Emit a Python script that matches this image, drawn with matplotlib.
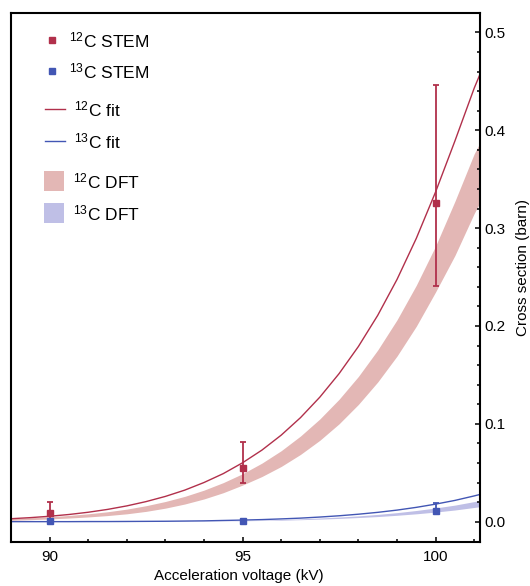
import numpy as np
import matplotlib
matplotlib.use("Agg")
import matplotlib.pyplot as plt
from matplotlib.patches import Rectangle

plt.rcParams['font.family'] = ['Liberation Sans', 'DejaVu Sans']
plt.rcParams['mathtext.fontset'] = 'custom'
plt.rcParams['mathtext.rm'] = 'Liberation Sans'
plt.rcParams['mathtext.it'] = 'Liberation Sans:italic'
plt.rcParams['mathtext.bf'] = 'Liberation Sans:bold'

# measured points (kV, barn)
volt = [90, 95, 100]
c12_stem = [0.009, 0.055, 0.326]
c12_err_lo = [0.008, 0.015, 0.085]
c12_err_hi = [0.011, 0.026, 0.120]
c13_stem = [0.0008, 0.0006, 0.0112]
c13_err_lo = [0.0005, 0.0004, 0.0015]
c13_err_hi = [0.0005, 0.0004, 0.0076]

# curves
xc = [89.0, 89.5, 90.0, 90.5, 91.0, 91.5, 92.0, 92.5, 93.0, 93.5, 94.0, 94.5, 95.0,
      95.5, 96.0, 96.5, 97.0, 97.5, 98.0, 98.5, 99.0, 99.5, 100.0, 100.5, 101.0, 101.2]
c12_fit = [0.0030, 0.0041, 0.0055, 0.0073, 0.0096, 0.0125, 0.0161, 0.0205, 0.0258, 0.0322,
           0.0400, 0.0491, 0.0602, 0.0731, 0.0884, 0.1063, 0.1272, 0.1513, 0.1790, 0.2108,
           0.2475, 0.2895, 0.3370, 0.3890, 0.4430, 0.4620]
c12_dft_hi = [0.0032, 0.0040, 0.0050, 0.0063, 0.0080, 0.0101, 0.0128, 0.0163, 0.0206, 0.0258,
              0.0322, 0.0399, 0.0490, 0.0598, 0.0725, 0.0875, 0.1049, 0.1251, 0.1484, 0.1754,
              0.2062, 0.2416, 0.2817, 0.3274, 0.3760, 0.3910]
c12_dft_lo = [0.0014, 0.0020, 0.0028, 0.0037, 0.0048, 0.0062, 0.0080, 0.0105, 0.0138, 0.0180,
              0.0232, 0.0296, 0.0374, 0.0461, 0.0564, 0.0687, 0.0831, 0.1000, 0.1198, 0.1427,
              0.1692, 0.1997, 0.2348, 0.2720, 0.3150, 0.3300]
c13_fit = [0.0000, 0.0000, 0.0000, 0.0000, 0.0001, 0.0001, 0.0002, 0.0003, 0.0004, 0.0006,
           0.0008, 0.0012, 0.0016, 0.0021, 0.0028, 0.0036, 0.0047, 0.0060, 0.0076, 0.0095,
           0.0118, 0.0146, 0.0179, 0.0217, 0.0263, 0.0283]
c13_dft_hi = [0.0000, 0.0000, 0.0000, 0.0000, 0.0001, 0.0001, 0.0002, 0.0002, 0.0003, 0.0005,
              0.0006, 0.0009, 0.0012, 0.0016, 0.0022, 0.0028, 0.0037, 0.0047, 0.0059, 0.0074,
              0.0092, 0.0114, 0.0140, 0.0169, 0.0205, 0.0221]
c13_dft_lo = [0.0000, 0.0000, 0.0000, 0.0000, 0.0000, 0.0001, 0.0001, 0.0002, 0.0002, 0.0003,
              0.0004, 0.0007, 0.0009, 0.0012, 0.0015, 0.0020, 0.0026, 0.0033, 0.0042, 0.0052,
              0.0065, 0.0080, 0.0098, 0.0119, 0.0145, 0.0156]

red = '#b1304b'
blue = '#4256b4'
red_fill = '#e3b7b5'
blue_fill = '#bfbfe6'

W, H = 530, 586
fig = plt.figure(figsize=(W/100, H/100), dpi=100)
ax = fig.add_axes([11/W, 1-542/H, (480-11)/W, (542-13)/H])

ax.fill_between(xc, c12_dft_lo, c12_dft_hi, color=red_fill, lw=0, zorder=1)
ax.fill_between(xc, c13_dft_lo, c13_dft_hi, color=blue_fill, lw=0, zorder=1)
ax.plot(xc, c12_fit, color=red, lw=1.0, zorder=2)
ax.plot(xc, c13_fit, color=blue, lw=1.0, zorder=2)
ax.errorbar(volt, c12_stem, yerr=[c12_err_lo, c12_err_hi], fmt='s', color=red, ms=5,
            elinewidth=1.3, capsize=2, capthick=1.3, zorder=3)
ax.errorbar(volt, c13_stem, yerr=[c13_err_lo, c13_err_hi], fmt='s', color=blue, ms=5,
            elinewidth=1.3, capsize=2, capthick=1.3, zorder=3)

ax.set_xlim(89.05, 101.15)
ax.set_ylim(-0.0208, 0.5198)
ax.set_xticks([90, 95, 100])
ax.set_xticks(np.arange(89, 102, 1), minor=True)
ax.set_yticks([0.0, 0.1, 0.2, 0.3, 0.4, 0.5])
ax.set_yticks(np.arange(0, 0.52, 0.02), minor=True)
ax.yaxis.tick_right()
ax.yaxis.set_label_position('right')
ax.tick_params(which='both', direction='in', width=1.1, labelsize=11, colors='black')
ax.tick_params(which='major', length=3.5)
ax.tick_params(which='minor', length=2.2)
ax.tick_params(axis='x', pad=6)
ax.tick_params(axis='y', pad=3)
for s in ax.spines.values():
    s.set_linewidth(1.5)

ax.set_xlabel('Acceleration voltage (kV)', fontsize=11)
ax.xaxis.set_label_coords((239-11)/469, -(569-542)/529)
ax.set_ylabel('Cross section (barn)', fontsize=11)
ax.yaxis.set_label_coords(1.0 + (516-480)/469, (542-267)/529)

# legend drawn by hand to match the grouped spacing
def ax_pt(px, py):
    return ((px-11)/469, (542-py)/529)

tr = ax.transAxes
for py, col, lab in [(40, red, '$^{12}$C STEM'), (71, blue, '$^{13}$C STEM')]:
    ax.plot(*ax_pt(52, py), 's', color=col, ms=5, transform=tr, clip_on=False)
    ax.text(*ax_pt(69, py), lab, transform=tr, fontsize=12.5, va='center', ha='left')
for py, col, lab in [(109, red, '$^{12}$C fit'), (141, blue, '$^{13}$C fit')]:
    x0, y0 = ax_pt(45, py)
    x1, _ = ax_pt(65, py)
    ax.plot([x0, x1], [y0, y0], color=col, lw=1.0, transform=tr)
    ax.text(*ax_pt(74, py), lab, transform=tr, fontsize=12.5, va='center', ha='left')
for py, col, lab in [(181, red_fill, '$^{12}$C DFT'), (213, blue_fill, '$^{13}$C DFT')]:
    x0, y0 = ax_pt(44, py + 10)
    ax.add_patch(Rectangle((x0, y0), 20/469, 20/529, color=col, lw=0, transform=tr))
    ax.text(*ax_pt(73, py), lab, transform=tr, fontsize=12.5, va='center', ha='left')

fig.savefig('out.png', dpi=100)
